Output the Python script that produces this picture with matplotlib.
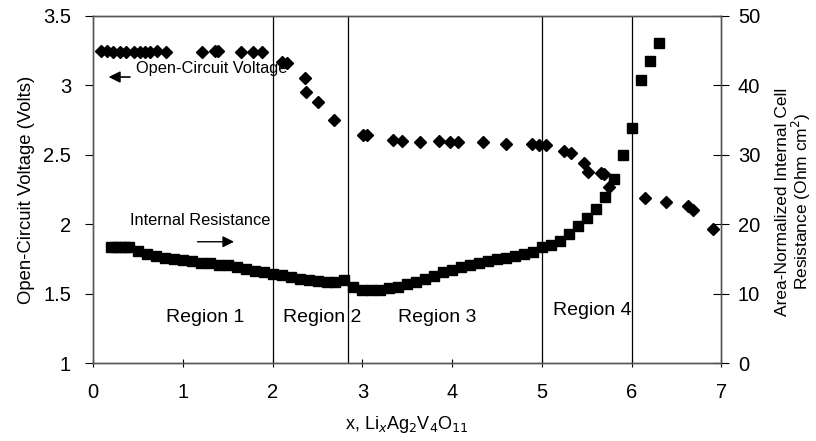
import matplotlib
matplotlib.use("Agg")
import matplotlib.pyplot as plt

plt.rcParams['font.family'] = ['Liberation Sans', 'DejaVu Sans']

# open-circuit voltage (diamonds, left axis)
ocv_x = [0.09, 0.15, 0.22, 0.30, 0.37, 0.45, 0.52, 0.58, 0.63, 0.71, 0.81,
         1.21, 1.36, 1.39, 1.65, 1.78, 1.88, 2.10, 2.16, 2.36, 2.37, 2.50,
         2.68, 3.01, 3.05, 3.34, 3.44, 3.64, 3.85, 3.98, 4.06, 4.34, 4.60,
         4.89, 4.97, 5.05, 5.25, 5.33, 5.47, 5.51, 5.66, 5.69, 5.75, 6.15,
         6.38, 6.63, 6.68, 6.91]
ocv_v = [3.25, 3.25, 3.24, 3.24, 3.24, 3.24, 3.24, 3.24, 3.24, 3.25, 3.24,
         3.24, 3.25, 3.25, 3.24, 3.24, 3.24, 3.17, 3.16, 3.05, 2.95, 2.88,
         2.75, 2.64, 2.64, 2.61, 2.60, 2.59, 2.60, 2.59, 2.59, 2.59, 2.58,
         2.58, 2.57, 2.57, 2.53, 2.51, 2.44, 2.38, 2.37, 2.36, 2.27, 2.19,
         2.16, 2.13, 2.10, 1.97]

# internal resistance (squares, right axis)
res_x = [0.20, 0.25, 0.30, 0.35, 0.40, 0.50, 0.60, 0.70, 0.80, 0.90, 1.00,
         1.10, 1.20, 1.30, 1.40, 1.50, 1.60, 1.70, 1.80, 1.90, 2.00, 2.10,
         2.20, 2.30, 2.40, 2.50, 2.60, 2.70, 2.80, 2.90, 3.00, 3.10, 3.20,
         3.30, 3.40, 3.50, 3.60, 3.70, 3.80, 3.90, 4.00, 4.10, 4.20, 4.30,
         4.40, 4.50, 4.60, 4.70, 4.80, 4.90, 5.00, 5.10, 5.20, 5.30, 5.40,
         5.50, 5.60, 5.70, 5.80, 5.90, 6.00, 6.11, 6.21, 6.31]
res_r = [16.7, 16.7, 16.7, 16.8, 16.8, 16.2, 15.8, 15.5, 15.2, 15.0, 14.9,
         14.7, 14.5, 14.4, 14.2, 14.1, 13.8, 13.6, 13.3, 13.1, 12.9, 12.7,
         12.4, 12.2, 12.0, 11.8, 11.7, 11.7, 12.0, 11.0, 10.6, 10.5, 10.6,
         10.8, 11.0, 11.4, 11.7, 12.1, 12.6, 13.1, 13.5, 13.9, 14.2, 14.5,
         14.7, 15.0, 15.2, 15.4, 15.7, 16.0, 16.7, 17.0, 17.6, 18.6, 19.7,
         20.9, 22.2, 24.0, 26.5, 30.0, 33.8, 40.8, 43.5, 46.1]

region_bounds = [2.0, 2.84, 5.0, 6.0]
region_names = ["Region 1", "Region 2", "Region 3", "Region 4"]
region_x = [1.25, 2.55, 3.83, 5.56]
region_y = [1.33, 1.33, 1.33, 1.38]

fig = plt.figure(figsize=(8.16, 4.41), dpi=100)
ax = fig.add_axes([0.1143, 0.176, 0.7696, 0.788])
ax2 = ax.twinx()

for b in region_bounds:
    ax.axvline(b, color='black', lw=0.9)

ax.plot(ocv_x, ocv_v, 'D', color='black', ms=6.5, zorder=3)
ax2.plot(res_x, res_r, 's', color='black', ms=6.8, zorder=3)

ax.set_xlim(0, 7)
ax.set_ylim(1, 3.5)
ax2.set_ylim(0, 50)
ax.set_xticks(range(8))
ax.set_yticks([1, 1.5, 2, 2.5, 3, 3.5])
ax.set_yticklabels(['1', '1.5', '2', '2.5', '3', '3.5'])
ax2.set_yticks([0, 10, 20, 30, 40, 50])

ax.tick_params(axis='y', direction='out', length=6, labelsize=14.5, pad=10)
ax.tick_params(axis='x', direction='inout', length=6, labelsize=14.5, pad=11)
ax2.tick_params(axis='y', direction='inout', length=12, labelsize=14.5, pad=6)

for a in (ax, ax2):
    for s in a.spines.values():
        s.set_color('#555555')
        s.set_linewidth(1.0)

ax.set_ylabel("Open-Circuit Voltage (Volts)", fontsize=13.3, labelpad=6)
ax2.set_ylabel("Area-Normalized Internal Cell\nResistance (Ohm cm$^2$)",
               fontsize=12.5, linespacing=1.0)
ax2.yaxis.set_label_coords(1.085, 0.465)
ax.set_xlabel("x, Li$_x$Ag$_2$V$_4$O$_{11}$", fontsize=13, labelpad=9)

for name, rx, ry in zip(region_names, region_x, region_y):
    ax.text(rx, ry, name, fontsize=14, ha='center', va='center')

ax.text(0.48, 3.125, "Open-Circuit Voltage", fontsize=11.8, ha='left', va='center')
ax.annotate("", xy=(0.14, 3.06), xytext=(0.44, 3.06),
            arrowprops=dict(arrowstyle='-|>', color='black', lw=1.2,
                            mutation_scale=17))
ax.text(0.41, 2.026, "Internal Resistance", fontsize=11.8, ha='left', va='center')
ax.annotate("", xy=(1.60, 1.875), xytext=(1.13, 1.875),
            arrowprops=dict(arrowstyle='-|>', color='black', lw=1.0,
                            mutation_scale=17))

fig.savefig("out.png", dpi=100)
